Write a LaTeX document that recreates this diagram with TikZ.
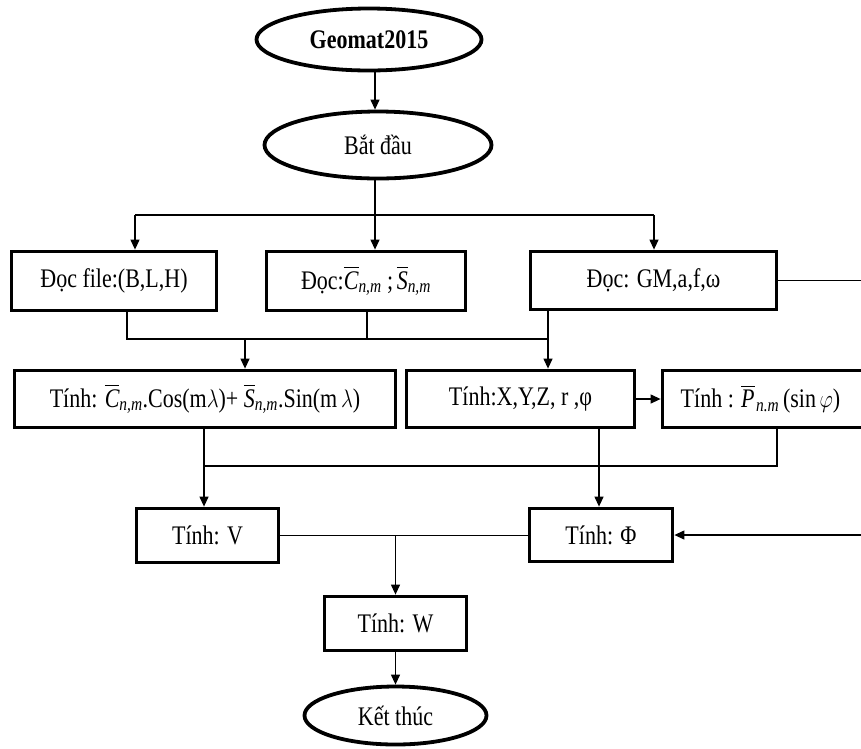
\documentclass[tikz,border=0pt]{standalone}
\usepackage{amsmath}
\usepackage{graphicx}
\usepackage{fontspec}
\setmainfont{Liberation Serif}
\usetikzlibrary{shapes.geometric,arrows.meta,calc}
\newcommand{\dfont}{\fontsize{22}{26}\selectfont}
\newcommand{\ovl}[1]{\overline{\textit{#1}}}
\newcommand{\tall}[1]{\scalebox{1}[1.22]{#1}}
\begin{document}
\begin{tikzpicture}[x=1pt,y=-1pt,
  box/.style={draw,rectangle,line width=3.8pt,inner sep=0pt,font=\dfont},
  oval/.style={draw,ellipse,line width=3.8pt,inner sep=0pt,font=\dfont},
  conn/.style={line width=1.2pt},
  arr/.style={conn,-{Triangle[length=10pt,width=9pt]}}]
\useasboundingbox (0,0) rectangle (861,748);
% nodes
\node[oval,minimum width=225,minimum height=62,font=\dfont\bfseries] (geo) at (369,39.5) {\tall{Geomat2015}};
\node[oval,minimum width=227,minimum height=67] (start) at (378,145) {\tall{Bắt đầu}};
\node[box,minimum width=205,minimum height=59] (r1) at (114,281) {\tall{Đọc file:(B,L,H)}};
\node[box,minimum width=199,minimum height=59] (r2) at (366,281) {\tall{Đọc:$\ovl{C}_{\textit{n,m}}$ ;$\,\ovl{S}_{\textit{n,m}}$}};
\node[box,minimum width=246,minimum height=58] (r3) at (653.5,280.5) {\tall{Đọc: GM,a,f,ω}};
\node[box,minimum width=381,minimum height=57] (c1) at (205,399) {\tall{Tính: $\ovl{C}_{\textit{n,m}}$.Cos(m$\lambda$)+ $\ovl{S}_{\textit{n,m}}$.Sin(m\,$\lambda$)}};
\node[box,minimum width=228,minimum height=57] (c2) at (520.5,399) {\tall{Tính:X,Y,Z, r ,φ}};
\node[box,minimum width=202,minimum height=57] (c3) at (763.5,399) {\tall{Tính : $\ovl{P}_{\kern1.5pt\textit{n.m}}$\,(sin\,$\varphi$)}\hspace*{6pt}};
\node[box,minimum width=142,minimum height=54] (v) at (207.5,535.5) {\tall{Tính: V}};
\node[box,minimum width=143,minimum height=53] (phi) at (601,535) {\tall{Tính: Φ}};
\node[box,minimum width=142,minimum height=54] (w) at (395.5,623.5) {\tall{Tính: W}};
\node[oval,minimum width=182,minimum height=58] (end) at (395.5,715.5) {\tall{Kết thúc}};
% junction coordinates
\coordinate (sp) at (375,215);
\coordinate (sl) at (135,215);
\coordinate (sr) at (654,215);
\coordinate (m1) at (127,339);
\coordinate (m2) at (367,339);
\coordinate (m3) at (548,339);
\coordinate (mc) at (245,339);
\coordinate (n1) at (204,466);
\coordinate (n2) at (599,466);
\coordinate (n3) at (777,466);
\coordinate (fb) at (872,0);
% connectors
\draw[arr] (geo.south -| sp) -- (start.north -| sp);
\draw[conn] (start.south -| sp) -- (sp);
\draw[conn] (sl) -- (sr);
\draw[arr] (sl) -- (sl |- r1.north);
\draw[arr] (sp) -- (sp |- r2.north);
\draw[arr] (sr) -- (sr |- r3.north);
\draw[conn] (m1 |- r1.south) -- (m1) -- (m3);
\draw[conn] (m2 |- r2.south) -- (m2);
\draw[arr] (m3 |- r3.south) -- (m3 |- c2.north);
\draw[arr] (mc) -- (mc |- c1.north);
\draw[arr] (c2.east) -- (c3.west);
\draw[arr] (n1 |- c1.south) -- (n1 |- v.north);
\draw[conn] (n1) -- (n3) -- (n3 |- c3.south);
\draw[arr] (n2 |- c2.south) -- (n2 |- phi.north);
\draw[conn] (v.east) -- (v.east -| phi.west);
\draw[arr] (w.north |- v.east) -- (w.north);
\draw[arr] (w.south) -- (end.north);
\draw[arr] (r3.east) -- (r3.east -| fb) -- (fb |- phi.east) -- (phi.east);
\end{tikzpicture}
\end{document}
